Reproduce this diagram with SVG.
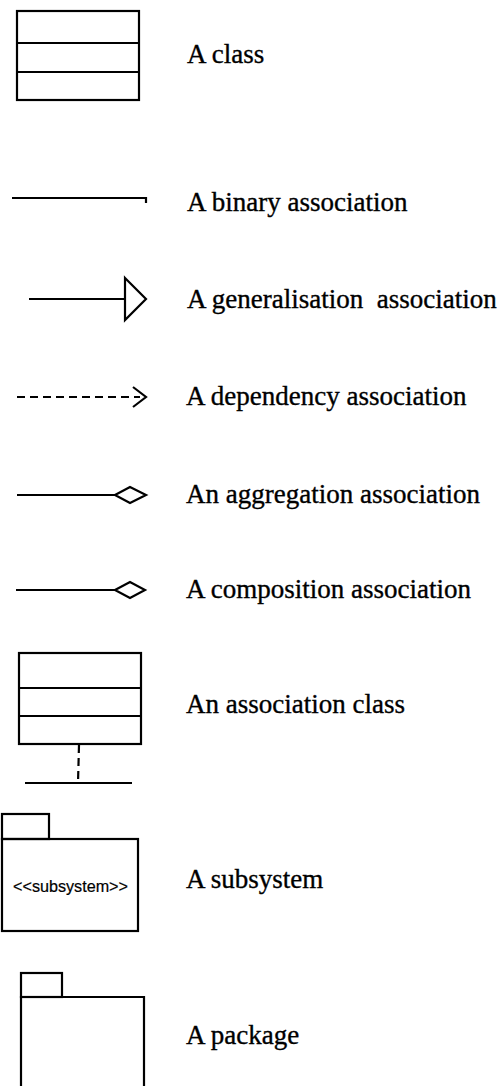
<svg xmlns="http://www.w3.org/2000/svg" width="502" height="1086" viewBox="0 0 502 1086">
  <style>
    .shape { fill: none; stroke: #000; stroke-width: 2.2; }
    .solid { fill: none; stroke: #000; stroke-width: 2.2; }
    .dash { fill: none; stroke: #000; stroke-width: 2.2; stroke-dasharray: 8 5; }
    .label { font-family: "Liberation Serif", "Times New Roman", serif; font-size: 27px; fill: #000; stroke: #000; stroke-width: 0.35; }
    .stereo { font-family: "Liberation Sans", Arial, sans-serif; font-size: 16px; fill: #000; stroke: #000; stroke-width: 0.2; }
  </style>
  <rect width="502" height="1086" fill="#fff"/>

  <!-- class box -->
  <g id="class">
    <rect class="shape" x="17" y="11" width="122" height="89"/>
    <line class="shape" x1="17" y1="43" x2="139" y2="43"/>
    <line class="shape" x1="17" y1="72" x2="139" y2="72"/>
  </g>

  <!-- association class -->
  <g id="association-class">
    <rect class="shape" x="19" y="653" width="122" height="91"/>
    <line class="shape" x1="19" y1="688" x2="141" y2="688"/>
    <line class="shape" x1="19" y1="716" x2="141" y2="716"/>
  </g>

  <!-- subsystem -->
  <g id="subsystem">
    <rect class="shape" x="2" y="814" width="47" height="25"/>
    <rect class="shape" x="2" y="839" width="136" height="92"/>
    <text class="stereo" x="13" y="892" textLength="115" lengthAdjust="spacingAndGlyphs">&lt;&lt;subsystem&gt;&gt;</text>
  </g>

  <!-- package -->
  <g id="package">
    <rect class="shape" x="21" y="973" width="41" height="24"/>
    <path class="shape" d="M21,1090 V997 H144 V1090"/>
  </g>

  <!-- connector notation samples -->
  <g id="connectors">
    <!-- binary association -->
    <path class="solid" d="M12,198 H146 V203"/>
    <!-- generalisation -->
    <line class="solid" x1="29" y1="299" x2="125" y2="299"/>
    <path class="solid" d="M125,278 L146,299 L125,320 Z"/>
    <!-- dependency -->
    <line class="dash" x1="17" y1="397" x2="140" y2="397"/>
    <path class="solid" d="M133,387 L146,397 L133,407"/>
    <!-- aggregation -->
    <line class="solid" x1="17" y1="495" x2="115" y2="495"/>
    <path class="solid" d="M115,495 L130,487 L146,495 L130,503 Z"/>
    <!-- composition -->
    <line class="solid" x1="16" y1="590" x2="115" y2="590"/>
    <path class="solid" d="M115,590 L130,582 L145,590 L130,598 Z"/>
    <!-- association class link -->
    <line class="dash" x1="79" y1="745" x2="78" y2="783"/>
    <line class="solid" x1="25" y1="783" x2="132" y2="783"/>
  </g>

  <!-- legend labels -->
  <g id="labels">
    <text class="label" x="187" y="63">A class</text>
    <text class="label" x="187" y="211">A binary association</text>
    <text class="label" x="187" y="308" xml:space="preserve">A generalisation  association</text>
    <text class="label" x="186" y="405">A dependency association</text>
    <text class="label" x="186" y="503">An aggregation association</text>
    <text class="label" x="186" y="598">A composition association</text>
    <text class="label" x="186" y="713">An association class</text>
    <text class="label" x="186" y="888">A subsystem</text>
    <text class="label" x="186" y="1044">A package</text>
  </g>
</svg>
